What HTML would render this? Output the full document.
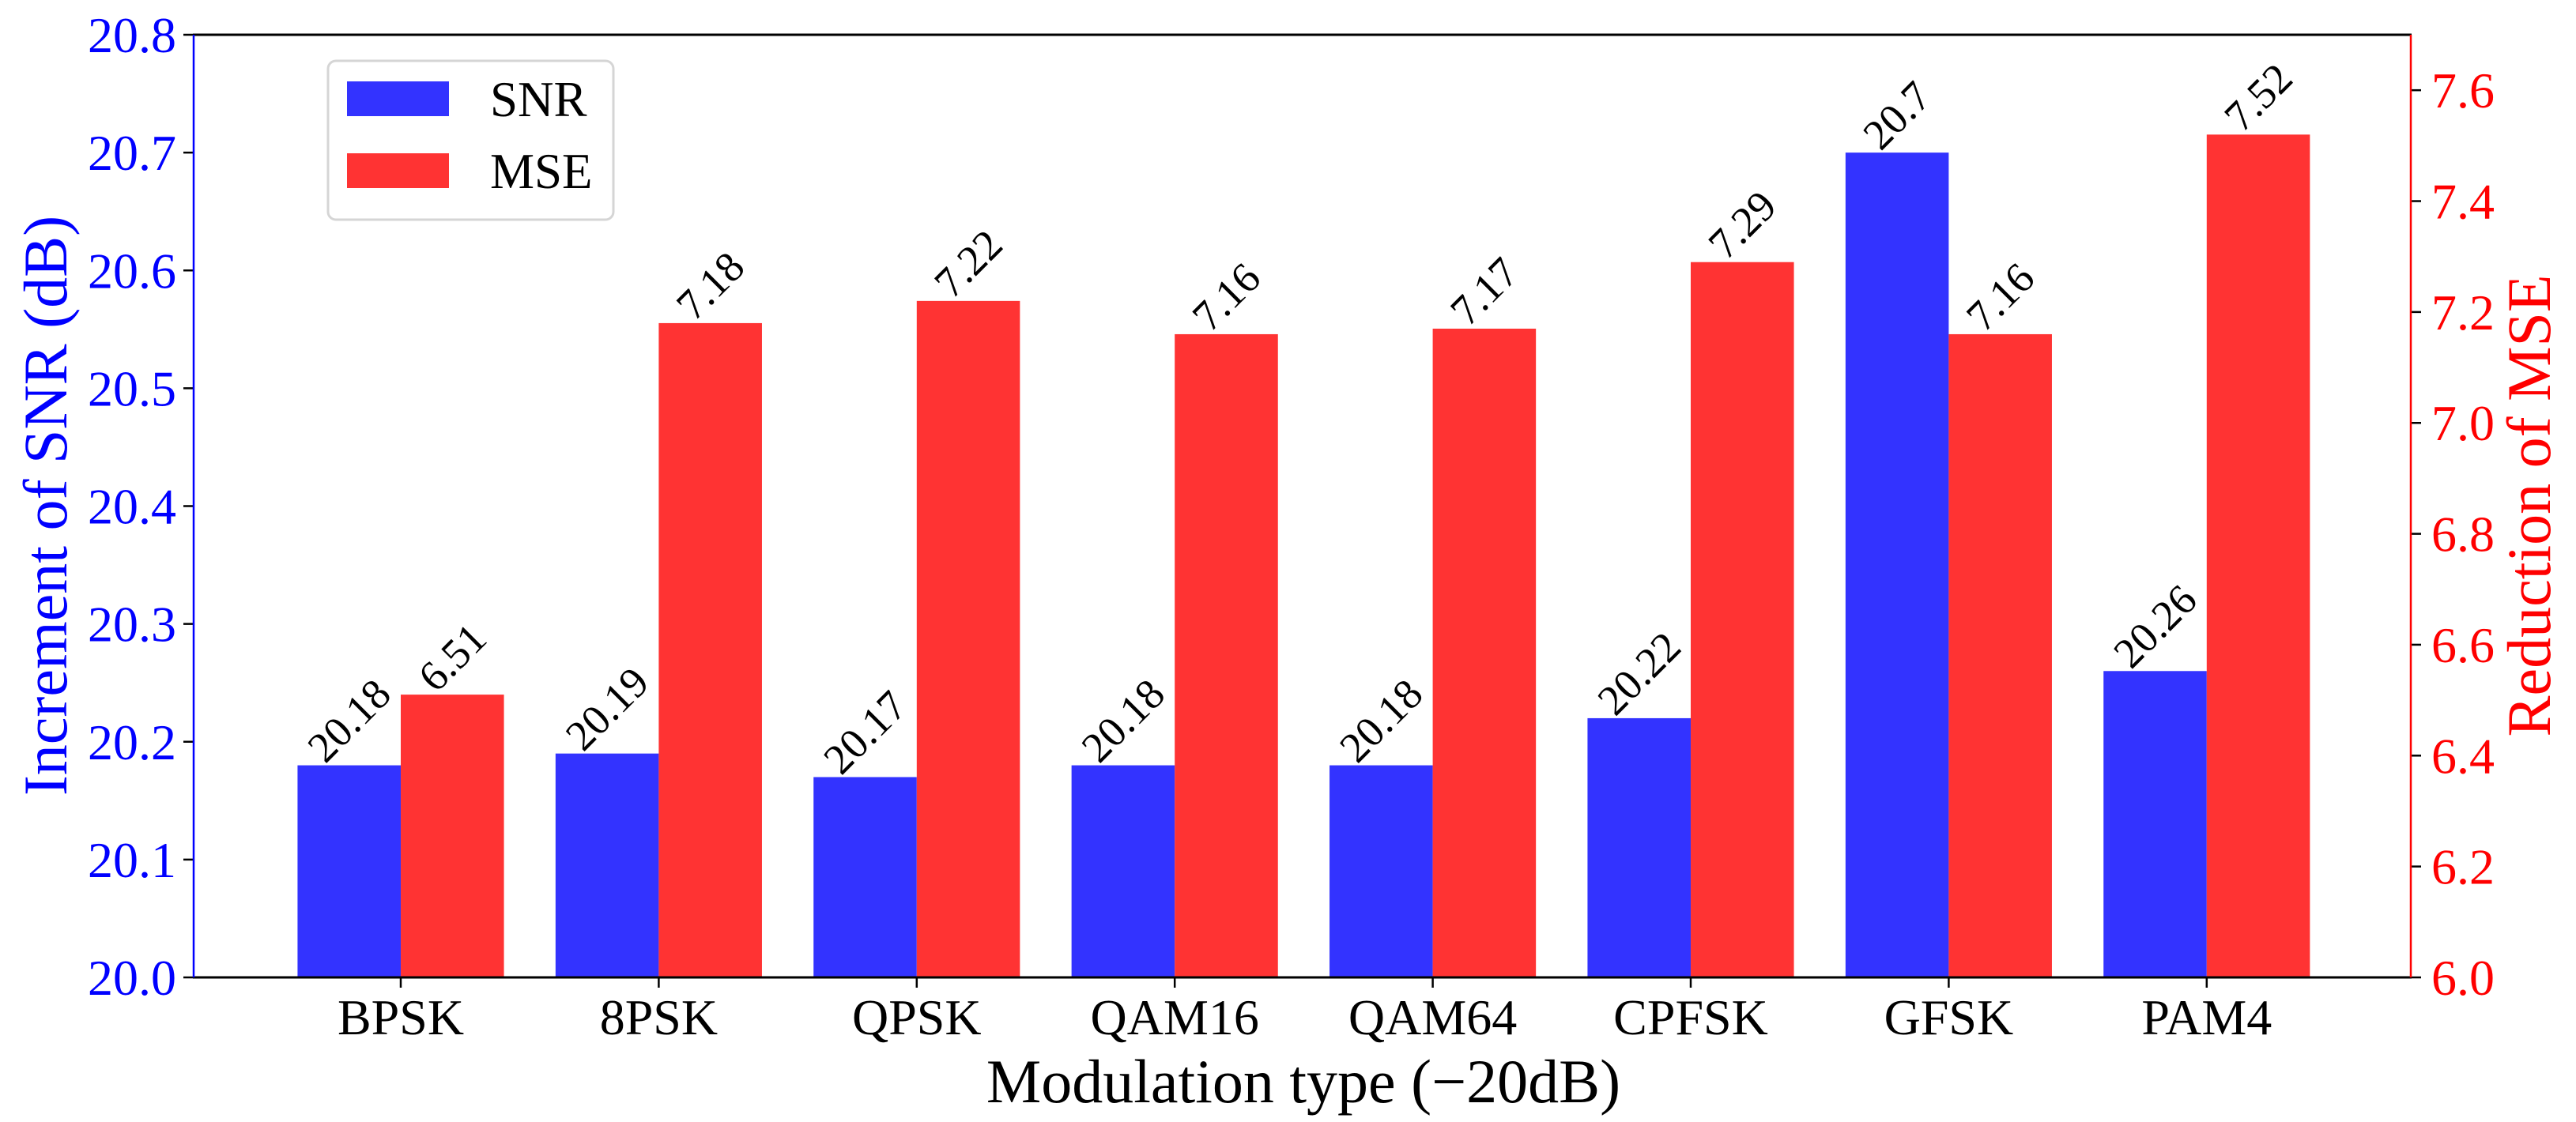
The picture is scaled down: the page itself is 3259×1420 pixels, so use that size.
<!DOCTYPE html>
<html><head><meta charset="utf-8"><style>
html,body{margin:0;padding:0;background:#fff;}
svg{display:block;}
text{font-family:"Liberation Serif","Times New Roman",serif;}
</style></head><body>
<svg id="chart" width="3259" height="1420" viewBox="0 0 3259 1420" xmlns="http://www.w3.org/2000/svg">
<rect width="3259" height="1420" fill="#fff"/>
<g id="bars"></g>
<g id="labels"></g>
<g id="axes"></g>
</svg>
<script>
const categories = ["BPSK","8PSK","QPSK","QAM16","QAM64","CPFSK","GFSK","PAM4"];
const snrValues = [20.18,20.19,20.17,20.18,20.18,20.22,20.7,20.26];
const mseValues = [6.51,7.18,7.22,7.16,7.17,7.29,7.16,7.52];
const snrLabels = ["20.18","20.19","20.17","20.18","20.18","20.22","20.7","20.26"];
const mseLabels = ["6.51","7.18","7.22","7.16","7.17","7.29","7.16","7.52"];
const leftTicks = ["20.0","20.1","20.2","20.3","20.4","20.5","20.6","20.7","20.8"];
const rightTicks = ["6.0","6.2","6.4","6.6","6.8","7.0","7.2","7.4","7.6"];

const NS="http://www.w3.org/2000/svg";
const FF='"Liberation Serif", "Times New Roman", serif';
const L=245,R=3050,T=44,B=1237;
const leftMin=20.0,leftMax=20.8,rightMin=6.0,rightMax=7.7;
const yL=v=>B-(v-leftMin)/(leftMax-leftMin)*(B-T);
const yR=v=>B-(v-rightMin)/(rightMax-rightMin)*(B-T);
const step=326.4, x0=507;
const xC=i=>x0+i*step;
const bw=0.4*step;
const BLUE="#3333ff",RED="#ff3333";
function mk(tag,attrs,parent){const e=document.createElementNS(NS,tag);for(const k in attrs)e.setAttribute(k,attrs[k]);if(tag==='text')e.setAttribute('font-family',FF);parent.appendChild(e);return e;}
const gb=document.getElementById('bars'),gl=document.getElementById('labels'),ga=document.getElementById('axes');

function valueLabel(txt,cx,top,name){
  const fs=54;
  const t=mk('text',{'font-size':fs,'text-anchor':'middle','dominant-baseline':'central',fill:'#000'},gl);
  t.textContent=txt;
  
  
  const len=t.getComputedTextLength();
  const h=fs*0.72;
  const cy=top-0.707*(len+h)/2;
  t.setAttribute('x',cx);t.setAttribute('y',cy);
  t.setAttribute('transform','rotate(-45 '+cx+' '+cy+')');
}

categories.forEach((c,i)=>{
  const xc=xC(i);
  const ys=yL(snrValues[i]);
  const rb=mk('rect',{x:xc-bw,y:ys,width:bw,height:B-ys,fill:BLUE},gb);
  
  
  const ym=yR(mseValues[i]);
  const rr=mk('rect',{x:xc,y:ym,width:bw,height:B-ym,fill:RED},gb);
  
  
  valueLabel(snrLabels[i],xc-bw/2,ys,'snr-value-'+c.toLowerCase());
  valueLabel(mseLabels[i],xc+bw/2,ym,'mse-value-'+c.toLowerCase());
  mk('line',{x1:xc,y1:B,x2:xc,y2:B+13,stroke:'#000','stroke-width':2.5},ga);
  const tl=mk('text',{x:xc,y:B+72,'font-size':64,'text-anchor':'middle',fill:'#000'},ga);
  tl.textContent=c;
  
  
});

leftTicks.forEach((s)=>{
  const y=yL(parseFloat(s));
  mk('line',{x1:L-13,y1:y,x2:L,y2:y,stroke:'#000','stroke-width':2.5},ga);
  const t=mk('text',{x:L-22,y:y+22,'font-size':64,'text-anchor':'end',fill:'#0000ff'},ga);
  t.textContent=s;
  
  
});
rightTicks.forEach((s)=>{
  const y=yR(parseFloat(s));
  mk('line',{x1:R,y1:y,x2:R+13,y2:y,stroke:'#000','stroke-width':2.5},ga);
  const t=mk('text',{x:R+26,y:y+22,'font-size':64,'text-anchor':'start',fill:'#ff0000'},ga);
  t.textContent=s;
  
  
});

mk('line',{x1:L-1,y1:T,x2:R+1,y2:T,stroke:'#000','stroke-width':3},ga);
mk('line',{x1:L-1,y1:B,x2:R+1,y2:B,stroke:'#000','stroke-width':3},ga);
mk('line',{x1:L,y1:T,x2:L,y2:B,stroke:'#0000ff','stroke-width':2.5},ga);
mk('line',{x1:R,y1:T,x2:R,y2:B,stroke:'#ff0000','stroke-width':2.5},ga);

const yt=mk('text',{x:0,y:0,'font-size':78,'text-anchor':'middle',fill:'#0000ff',transform:'translate(84 640) rotate(-90)'},ga);
yt.textContent='Increment of SNR (dB)';


const yt2=mk('text',{x:0,y:0,'font-size':78,'text-anchor':'middle',fill:'#ff0000',transform:'translate(3226 640) rotate(-90)'},ga);
yt2.textContent='Reduction of MSE';


const xt=mk('text',{x:1649,y:1395,'font-size':78,'text-anchor':'middle',fill:'#000'},ga);
xt.textContent='Modulation type (\u221220dB)';



const lg=mk('g',{},ga);


mk('rect',{x:415,y:77,width:361,height:201,rx:10,fill:'#fff','fill-opacity':0.8,stroke:'#d5d5d5','stroke-width':3},lg);
mk('rect',{x:439,y:103,width:129,height:44,fill:BLUE},lg);
mk('rect',{x:439,y:194,width:129,height:44,fill:RED},lg);
const l1=mk('text',{x:620,y:147,'font-size':63,fill:'#000'},lg);
l1.textContent='SNR';


const l2=mk('text',{x:620,y:238,'font-size':63,fill:'#000'},lg);
l2.textContent='MSE';


</script>
</body></html>
